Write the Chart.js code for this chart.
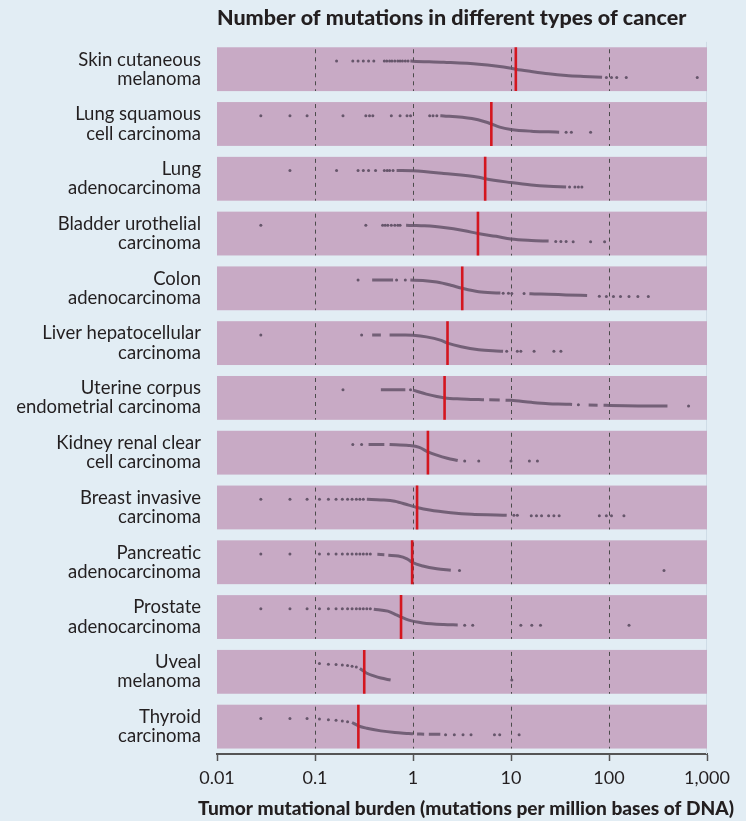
<!DOCTYPE html>
<html>
<head>
<meta charset="utf-8">
<title>Number of mutations in different types of cancer</title>
<script src="https://cdn.jsdelivr.net/npm/chart.js@4.4.0/dist/chart.umd.min.js"></script>
<style>
  html, body { margin: 0; padding: 0; background: #e2edf4; }
  #mychart { display: block; background: #e2edf4; }
</style>
</head>
<body>
<canvas id="mychart" width="746" height="821"></canvas>
<script>
var cancerTypes = [
  ['Skin cutaneous', 'melanoma'],
  ['Lung squamous', 'cell carcinoma'],
  ['Lung', 'adenocarcinoma'],
  ['Bladder urothelial', 'carcinoma'],
  ['Colon', 'adenocarcinoma'],
  ['Liver hepatocellular', 'carcinoma'],
  ['Uterine corpus', 'endometrial carcinoma'],
  ['Kidney renal clear', 'cell carcinoma'],
  ['Breast invasive', 'carcinoma'],
  ['Pancreatic', 'adenocarcinoma'],
  ['Prostate', 'adenocarcinoma'],
  ['Uveal', 'melanoma'],
  ['Thyroid', 'carcinoma']
];
var xTicks = [0.01, 0.1, 1, 10, 100, 1000];
var xTickLabels = ['0.01', '0.1', '1', '10', '100', '1,000'];
var xAxisTitle = 'Tumor mutational burden (mutations per million bases of DNA)';
var medians = [11.2, 6.3, 5.45, 4.6, 3.18, 2.25, 2.1, 1.42, 1.1, 0.98, 0.755, 0.318, 0.277];

// [mutations per Mb, rank inside the cancer type (0 = lowest, 1 = highest)]
// "Dots" are single samples, "Curve" are the dense runs (null = break)
var skinDots = [[0.166,0],[0.243,0],[0.275,0],[0.311,0],[0.352,0],[0.398,0],[0.51,0],[0.54,0],[0.577,0],[0.61,0],[0.652,0],[0.7,0],[0.738,0],[0.78,0],[0.835,0],[0.89,0],[94,1],[106,1],[120,1],[150,1],[795,1]];
var skinCurve = [[0.94,0],[1,0.01],[2.06,0.08],[4.69,0.2],[10,0.44],[11.2,0.5],[16.1,0.64],[24.2,0.78],[36.5,0.88],[55,0.94],[85,0.99]];

var lungSqDots = [[0.028,0],[0.0555,0],[0.083,0],[0.193,0],[0.33,0],[0.36,0],[0.389,0],[0.601,0],[0.738,0],[0.869,0],[0.944,0],[1.48,0],[1.6,0],[1.75,0],[36.5,1],[41.3,1],[64.9,1]];
var lungSqCurve = [[1.9,0],[2.06,0.01],[3.98,0.17],[5.52,0.38],[6.3,0.5],[7.67,0.69],[10,0.83],[16.1,0.94],[24.2,0.98],[31,1]];

var lungAdDots = [[0.0555,0],[0.166,0],[0.275,0],[0.311,0],[0.352,0],[0.415,0],[0.51,0],[0.545,0],[0.577,0],[0.626,0],[39.6,1],[44.9,1],[48.7,1],[52.9,1]];
var lungAdCurve = [[0.68,0],[1,0.02],[2.06,0.18],[4.69,0.41],[5.45,0.5],[10,0.73],[16.1,0.88],[24.2,0.96],[36.5,1]];

var bladderDots = [[0.028,0],[0.33,0],[0.49,0],[0.52,0],[0.553,0],[0.601,0],[0.652,0],[0.7,0],[0.738,0],[28.6,0.98],[32.3,0.98],[36.5,0.99],[43.1,1],[64.9,1],[90.2,1]];
var bladderCurve = [[0.85,0],[1.07,0.01],[1.31,0.03],[2.06,0.13],[3.37,0.33],[4.6,0.5],[7.06,0.67],[10,0.83],[16.1,0.92],[24.2,0.96]];

var colonDots = [[0.275,0],[0.68,0],[0.835,0],[8.32,0.8],[9.42,0.8],[10.2,0.81],[13.6,0.82],[79.7,0.98],[94,0.99],[111,1],[131,1],[160,1],[197,1],[252,1]];
var colonCurve = [[0.383,0],[0.626,0],null,[0.94,0],[1.26,0.02],[1.75,0.12],[2.43,0.31],[3.18,0.5],[4.69,0.71],[7.06,0.78],[7.8,0.79],null,[15.4,0.83],[17.4,0.84],[24.2,0.86],[36.5,0.9],[59.8,0.94]];

var liverDots = [[0.028,0],[0.299,0],[9.04,1],[11.6,1],[12.6,1],[17.2,1],[27.4,1],[32.3,1]];
var liverCurve = [[0.383,0],[0.47,0],null,[0.577,0],[0.835,0],[1,0.02],[1.37,0.12],[1.9,0.32],[2.25,0.5],[3.11,0.72],[4.69,0.9],[7.06,0.98],[8.3,1]];

var uterineDots = [[0.193,0],[0.944,0.01],[48.7,0.92],[648,1]];
var uterineCurve = [[0.47,0],[0.835,0],null,[1,0.03],[1.37,0.27],[1.75,0.42],[2.1,0.5],[3.11,0.56],[4.69,0.6],[5.3,0.61],null,[6,0.62],[7.67,0.63],null,[8.8,0.64],[10,0.65],[16.1,0.77],[24.2,0.85],[36.5,0.88],[42,0.9],null,[62,0.93],[76.5,0.94],null,[88,0.95],[102,0.96],[148,0.98],[222,0.99],[395,1]];

var kidneyDots = [[0.243,0],[0.299,0],[3.37,1],[4.69,1],[10,1],[15.4,1],[18.6,1]];
var kidneyCurve = [[0.352,0],[0.51,0],null,[0.577,0],[0.906,0.06],[1.16,0.18],[1.42,0.45],[1.75,0.65],[2.24,0.84],[2.86,0.98]];

var breastDots = [[0.028,0],[0.0555,0],[0.083,0],[0.111,0],[0.137,0],[0.164,0],[0.19,0],[0.215,0],[0.239,0],[0.264,0],[0.287,0],[0.311,0],[10.7,0.98],[11.6,0.98],[16.1,1],[18.2,1],[20.5,1],[24.2,1],[27.4,1],[31,1],[79.7,1],[94,1],[106,1],[142,1]];
var breastCurve = [[0.338,0],[0.47,0.04],[0.652,0.12],[0.906,0.36],[1.1,0.5],[1.48,0.66],[2.43,0.82],[3.98,0.92],[7.06,0.96],[9.04,0.98]];

var pancreasDots = [[0.028,0],[0.0555,0],[0.111,0],[0.137,0],[0.164,0],[0.19,0],[0.215,0],[0.239,0],[0.264,0],[0.287,0],[0.311,0],[0.338,0],[0.367,0],[2.98,1],[364,1]];
var pancreasCurve = [[0.433,0.02],[0.51,0.04],null,[0.56,0.08],[0.708,0.12],[0.869,0.29],[0.98,0.5],[1.26,0.73],[1.75,0.9],[2.43,0.98]];

var prostateDots = [[0.028,0],[0.0555,0],[0.083,0],[0.111,0],[0.137,0],[0.164,0],[0.19,0],[0.215,0],[0.239,0],[0.264,0],[0.287,0],[0.311,0],[0.338,0],[0.367,0],[3.37,1],[4.07,1],[12.6,1],[16.3,1],[20,1],[160,1]];
var prostateCurve = [[0.398,0.02],[0.553,0.14],[0.68,0.37],[0.755,0.5],[0.906,0.69],[1.26,0.86],[2.06,0.96],[2.86,0.98]];

var uvealDots = [[0.111,0],[0.137,0.04],[0.164,0.06],[0.19,0.08],[0.215,0.12],[0.239,0.16],[0.264,0.2],[10.2,1]];
var uvealCurve = [[0.287,0.3],[0.318,0.48],[0.338,0.59],[0.398,0.75],[0.47,0.88],[0.591,1]];

var thyroidDots = [[0.028,0],[0.0555,0],[0.083,0],[0.111,0.04],[0.137,0.08],[0.164,0.12],[0.19,0.16],[0.215,0.2],[2.15,1],[2.64,1],[3.24,1],[3.91,1],[6.78,1],[7.67,1],[12.1,1]];
var thyroidCurve = [[0.239,0.25],[0.277,0.45],[0.338,0.6],[0.47,0.76],[0.652,0.86],[0.906,0.92],[1,0.94],null,[1.1,0.95],[1.3,0.96],null,[1.45,0.96],[1.9,0.97]];

var allDots = [skinDots, lungSqDots, lungAdDots, bladderDots, colonDots, liverDots, uterineDots, kidneyDots, breastDots, pancreasDots, prostateDots, uvealDots, thyroidDots];
var allCurves = [skinCurve, lungSqCurve, lungAdCurve, bladderCurve, colonCurve, liverCurve, uterineCurve, kidneyCurve, breastCurve, pancreasCurve, prostateCurve, uvealCurve, thyroidCurve];

var textColor = '#231f20';
var bandColor = '#c8aac5';
var dotColor = '#66566b';
var medianColor = '#d4161f';
var bandHalf = 0.4;   // half height of a band in row units
var spread = 0.3;     // vertical room for the rank inside a band

function toPoints(list, row) {
  return list.map(function(p) {
    if (p === null) return {x: null, y: null};
    return {x: p[0], y: row + (p[1] - 0.5) * spread};
  });
}

var datasets = [];
datasets.push({
  label: 'median',
  data: medians.map(function(m, i) { return {x: m, y: i}; }),
  pointStyle: 'line',
  rotation: 90,
  radius: function(c) {
    var s = c.chart.scales.y;
    return Math.abs(s.getPixelForValue(bandHalf) - s.getPixelForValue(0));
  },
  borderColor: medianColor,
  backgroundColor: medianColor,
  borderWidth: 2.6,
  order: 0
});
allCurves.forEach(function(c, i) {
  datasets.push({
    label: cancerTypes[i].join(' ') + ' curve',
    data: toPoints(c, i),
    showLine: true,
    spanGaps: false,
    borderColor: 'rgba(100,84,105,0.85)',
    borderWidth: 3,
    pointRadius: 0,
    cubicInterpolationMode: 'monotone',
    order: 1
  });
});
allDots.forEach(function(d, i) {
  datasets.push({
    label: cancerTypes[i].join(' '),
    data: toPoints(d, i),
    pointRadius: 1.5,
    pointBorderWidth: 0,
    backgroundColor: dotColor,
    borderColor: dotColor,
    order: 2
  });
});

// purple bands with the dashed decade lines inside them
var bandPlugin = {
  id: 'bands',
  beforeDatasetsDraw: function(chart) {
    var ctx = chart.ctx, area = chart.chartArea;
    var xs = chart.scales.x, ys = chart.scales.y;
    ctx.save();
    // faint panel edge on the right
    ctx.strokeStyle = '#cfdce6';
    ctx.lineWidth = 1;
    ctx.beginPath();
    ctx.moveTo(area.right - 0.5, area.top);
    ctx.lineTo(area.right - 0.5, area.bottom);
    ctx.stroke();
    cancerTypes.forEach(function(name, i) {
      var top = ys.getPixelForValue(i - bandHalf);
      var bottom = ys.getPixelForValue(i + bandHalf);
      ctx.fillStyle = bandColor;
      ctx.fillRect(area.left, top, area.right - area.left, bottom - top);
      ctx.strokeStyle = '#4b4b4b';
      ctx.lineWidth = 1;
      ctx.setLineDash([4, 4]);
      xs.ticks.forEach(function(t) {
        var x = Math.round(xs.getPixelForValue(t.value)) + 0.5;
        if (x < area.left + 2 || x > area.right - 2) return;
        ctx.beginPath();
        ctx.moveTo(x, top + 2);
        ctx.lineTo(x, bottom);
        ctx.stroke();
      });
      ctx.setLineDash([]);
    });
    ctx.restore();
  }
};

// the axis title is wider than the plot, so the built-in one would squeeze it
var axisTitlePlugin = {
  id: 'axisTitle',
  afterDraw: function(chart) {
    var ctx = chart.ctx, area = chart.chartArea;
    ctx.save();
    ctx.font = '900 19.1px Lato';
    ctx.fillStyle = textColor;
    ctx.textAlign = 'center';
    ctx.textBaseline = 'alphabetic';
    ctx.fillText(xAxisTitle, (area.left + area.right) / 2 + 4, chart.height - 6);
    ctx.restore();
  }
};

var ctx = document.getElementById('mychart');
var myChart = new Chart(ctx, {
  type: 'scatter',
  data: { datasets: datasets },
  plugins: [bandPlugin, axisTitlePlugin],
  options: {
    responsive: false,
    animation: false,
    events: [],
    layout: { padding: { left: 0, right: 39, top: 0, bottom: 0 } },
    plugins: {
      legend: { display: false },
      tooltip: { enabled: false },
      title: {
        display: true,
        text: 'Number of mutations in different types of cancer',
        align: 'start',
        fullSize: false,
        color: textColor,
        font: { family: 'Lato', size: 21.5, weight: '900' },
        padding: { top: 5, bottom: 11 }
      }
    },
    scales: {
      x: {
        type: 'logarithmic',
        position: 'bottom',
        min: 0.01,
        max: 1000,
        afterBuildTicks: function(scale) {
          scale.ticks = xTicks.map(function(v) { return {value: v, major: true}; });
        },
        afterFit: function(scale) { scale.height = 67; },
        grid: {
          drawOnChartArea: false,
          drawTicks: true,
          tickLength: 7,
          tickColor: '#555555',
          tickWidth: 1.5
        },
        border: { display: true, color: '#555555', width: 2 },
        ticks: {
          autoSkip: false,
          maxRotation: 0,
          padding: 6,
          color: textColor,
          font: { family: 'Lato', size: 18 },
          callback: function(value, index) { return xTickLabels[index]; }
        },
        title: { display: false }
      },
      y: {
        type: 'linear',
        reverse: true,
        min: -0.5,
        max: 12.5,
        afterBuildTicks: function(scale) {
          scale.ticks = cancerTypes.map(function(c, i) { return {value: i}; });
        },
        afterFit: function(scale) { scale.width = 217; },
        grid: { display: false },
        border: { display: false },
        ticks: {
          autoSkip: false,
          padding: 8,
          color: textColor,
          font: { family: 'Lato', size: 18.5, lineHeight: 1.04 },
          callback: function(value, index) { return cancerTypes[index]; }
        }
      }
    }
  }
});
</script>
</body>
</html>
